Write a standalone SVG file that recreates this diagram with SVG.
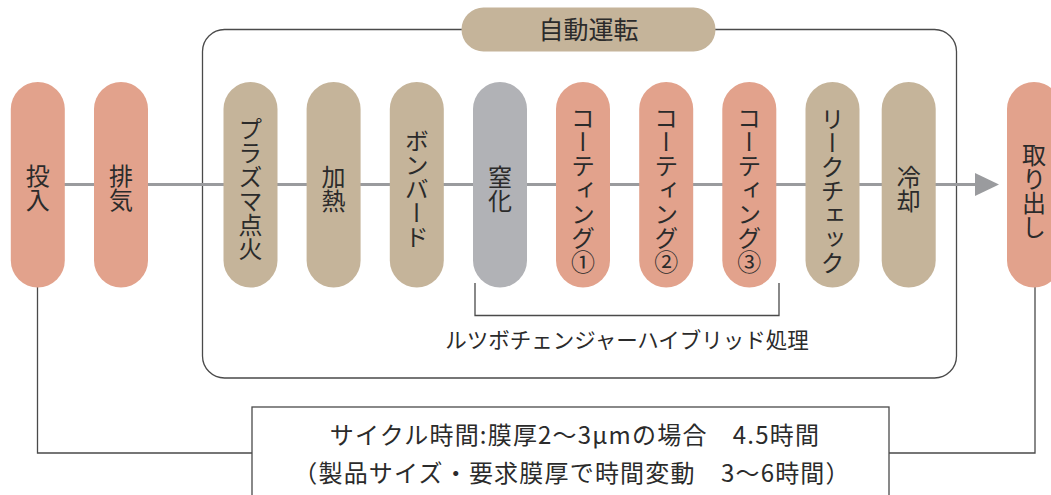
<svg xmlns="http://www.w3.org/2000/svg" width="1051" height="495" viewBox="0 0 1051 495">
<style>
.pill{stroke:none}
.sal{fill:#e2a28c}
.tan{fill:#c5b49a}
.gry{fill:#b1b2b6}
.vt{font-family:"Noto Sans CJK JP","Noto Sans",sans-serif;font-size:24px;fill:#2b2b2b;writing-mode:vertical-rl;text-anchor:middle}
.ht{font-family:"Noto Sans CJK JP","Noto Sans",sans-serif;fill:#2b2b2b;text-anchor:middle}
.ln{fill:none;stroke:#4a4a4a;stroke-width:1.3}
.ct{font-size:24px;letter-spacing:1.2px}
</style>
<rect x="0" y="0" width="1051" height="495" fill="#ffffff"/>
<g id="frame">
<rect class="ln" x="202.5" y="29.5" width="754" height="348.5" rx="22" ry="22"/>
</g>
<g id="connectors">
<line x1="64" y1="184.5" x2="976" y2="184.5" stroke="#9a9b9e" stroke-width="3.2"/>
<polygon points="975,173 999,184.5 975,196" fill="#9a9b9e"/>
<polyline class="ln" points="37.5,287 37.5,453 252,453"/>
<polyline class="ln" points="1035,287 1035,453 889,453"/>
<polyline class="ln" points="475,283 475,315.5 779,315.5 779,283"/>
</g>
<g id="auto">
<rect class="tan" x="461.5" y="7.5" width="254" height="44" rx="22" ry="22"/>
<text class="ht" x="588.5" y="38.5" font-size="25">自動運転</text>
</g>
<g id="n1"><rect class="sal" x="10.8" y="82" width="54" height="205.5" rx="27"/><text class="vt" x="37.8" y="188">投入</text></g>
<g id="n2"><rect class="sal" x="94" y="82" width="54" height="205.5" rx="27"/><text class="vt" x="121" y="188">排気</text></g>
<g id="n3"><rect class="tan" x="223.5" y="82" width="54" height="205.5" rx="27"/><text class="vt" x="250.5" y="189">プラズマ点火</text></g>
<g id="n4"><rect class="tan" x="306.6" y="82" width="54" height="205.5" rx="27"/><text class="vt" x="333.6" y="189">加熱</text></g>
<g id="n5"><rect class="tan" x="389.8" y="82" width="54" height="205.5" rx="27"/><text class="vt" x="416.8" y="189">ボンバード</text></g>
<g id="n6"><rect class="gry" x="473" y="82" width="54" height="205.5" rx="27"/><text class="vt" x="500" y="189">窒化</text></g>
<g id="n7"><rect class="sal" x="556" y="82" width="54" height="205.5" rx="27"/><text class="vt" x="583" y="190">コーティング①</text></g>
<g id="n8"><rect class="sal" x="639.2" y="82" width="54" height="205.5" rx="27"/><text class="vt" x="666.2" y="190">コーティング②</text></g>
<g id="n9"><rect class="sal" x="722.3" y="82" width="54" height="205.5" rx="27"/><text class="vt" x="749.3" y="190">コーティング③</text></g>
<g id="n10"><rect class="tan" x="805.5" y="82" width="54" height="205.5" rx="27"/><text class="vt" x="832.5" y="191">リークチェック</text></g>
<g id="n11"><rect class="tan" x="881.7" y="82" width="54" height="205.5" rx="27"/><text class="vt" x="908.7" y="189">冷却</text></g>
<g id="n12"><rect class="sal" x="1007" y="82" width="54" height="205.5" rx="27"/><text class="vt" x="1034" y="191">取り出し</text></g>
<g id="hybrid"><text class="ht" x="627" y="348" font-size="21.5">ルツボチェンジャーハイブリッド処理</text></g>
<g id="cycle">
<rect class="ln" x="252" y="407" width="637" height="110" fill="#ffffff"/>
<text class="ht ct" x="575" y="443.5">サイクル時間:膜厚2～3μmの場合　4.5時間</text>
<text class="ht ct" x="572" y="481.5">（製品サイズ・要求膜厚で時間変動　3～6時間）</text>
</g>
</svg>
